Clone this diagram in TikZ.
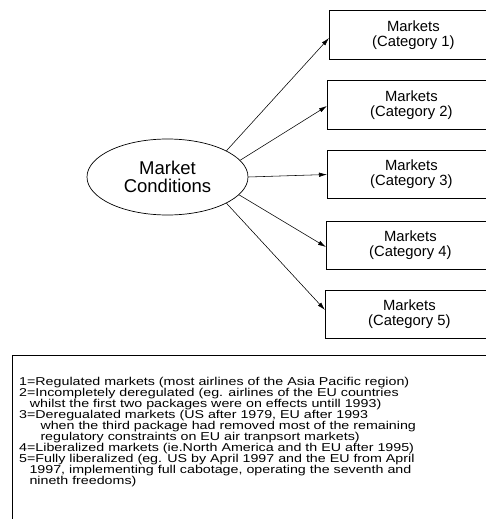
\documentclass[tikz,border=0pt]{standalone}
\usepackage{fontspec}
\setmainfont{Liberation Sans}
\newfontfamily\legendfont[FakeStretch=1.25]{Liberation Sans}
\usetikzlibrary{shapes.geometric,arrows.meta}
\tikzset{
  mbox/.style={draw, line width=0.7pt, rectangle, anchor=west, minimum width=168pt, minimum height=48.6pt, inner sep=0pt, align=center, font=\fontsize{14.8}{15}\selectfont},
  conn/.style={line width=0.55pt, -{Latex[length=8pt,width=4.5pt]}},
  legline/.style={anchor=base west, inner sep=0pt, font=\legendfont\fontsize{11.4}{11.1}\selectfont},
}
\begin{document}
\begin{tikzpicture}[x=1pt,y=-1pt]
\useasboundingbox (0,0) rectangle (486,519);
\clip (0,0) rectangle (486,519);
\node[draw, line width=0.7pt, ellipse, minimum width=161pt, minimum height=76pt, inner sep=0pt, align=center, font=\fontsize{18.5}{17.5}\selectfont] (ell) at (167.5,177) {Market\\Conditions};
\node[mbox] (b1) at (329,35) {Markets\\(Category 1)};
\node[mbox] (b2) at (327,105) {Markets\\(Category 2)};
\node[mbox] (b3) at (327,174.5) {Markets\\(Category 3)};
\node[mbox] (b4) at (326,245.5) {Markets\\(Category 4)};
\node[mbox] (b5) at (325,314.5) {Markets\\(Category 5)};
\draw[conn] (ell.24) -- ([yshift=-3pt]b1.west);
\draw[conn] (ell.13) -- ([yshift=-1pt]b2.west);
\draw[conn] (ell.0) -- (b3.west);
\draw[conn] (ell.-14) -- ([yshift=-1.5pt]b4.west);
\draw[conn] (ell.-24) -- ([yshift=4.5pt]b5.west);
\draw[line width=0.7pt] (12,540) -- (12,355) -- (500,355);
\node[legline] (l1) at (19,385) {1=Regulated markets (most airlines of the Asia Pacific region)};
\node[legline] (l2) at (19,396.1) {2=Incompletely deregulated (eg. airlines of the EU countries};
\node[legline] (l3) at (29.7,407.2) {whilst the first two packages were on effects untill 1993)};
\node[legline] (l4) at (19,418.3) {3=Deregualated markets (US after 1979, EU after 1993};
\node[legline] (l5) at (40.3,429.4) {when the third package had removed most of the remaining};
\node[legline] (l6) at (40.3,440.5) {regulatory constraints on EU air tranpsort markets)};
\node[legline] (l7) at (19,451.6) {4=Liberalized markets (ie.North America and th EU after 1995)};
\node[legline] (l8) at (19,462.7) {5=Fully liberalized (eg. US by April 1997 and the EU from April};
\node[legline] (l9) at (29.3,473.8) {1997, implementing full cabotage, operating the seventh and};
\node[legline] (l10) at (29.3,484.9) {nineth freedoms)};
\end{tikzpicture}
\end{document}
